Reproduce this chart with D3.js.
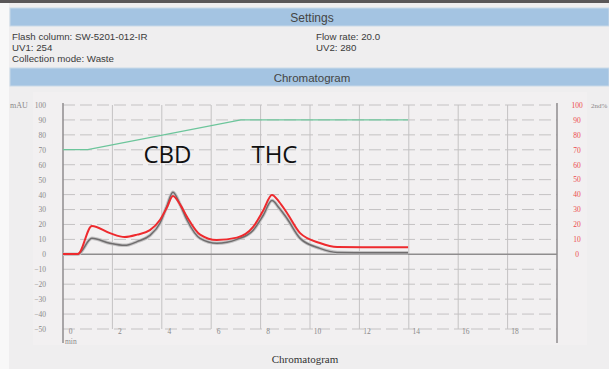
<!DOCTYPE html>
<html>
<head>
<meta charset="utf-8">
<script src="https://d3js.org/d3.v7.min.js"></script>
<style>
  body { margin: 0; background: #efeeef; }
  svg { display: block; }
</style>
</head>
<body>
<div id="chart"></div>
<script>
// Run settings
var settingsLeft = ["Flash column: SW-5201-012-IR", "UV1: 254", "Collection mode: Waste"];
var settingsRight = ["Flow rate: 20.0", "UV2: 280"];

// Axis ticks
var xTicks = [0, 2, 4, 6, 8, 10, 12, 14, 16, 18];
var yTicks = [-50, -40, -30, -20, -10, 0, 10, 20, 30, 40, 50, 60, 70, 80, 90, 100];
var y2Ticks = [0, 10, 20, 30, 40, 50, 60, 70, 80, 90, 100];

// Traces (time in min)
var uv1Time = [0, 0.6, 1.17, 1.9, 2.5, 3.0, 3.52, 3.93, 4.2, 4.45, 4.75, 5.02, 5.55, 6.23, 7.04, 7.69, 8.1, 8.46, 8.75, 9.07, 9.6, 10.4, 11.1, 12.5, 13.97];
var uv1 = [0, 0, 10.7, 7.4, 6.0, 8.5, 12.7, 21, 32, 41.6, 33, 23, 10.7, 7.4, 10, 16, 26, 36, 31, 24, 10.7, 4, 1.3, 1.0, 1.0];
var uv2Time = [0, 0.6, 1.17, 1.9, 2.5, 3.0, 3.52, 3.93, 4.2, 4.45, 4.75, 5.02, 5.55, 6.23, 7.04, 7.69, 8.1, 8.46, 8.75, 9.07, 9.6, 10.4, 11.1, 12.5, 13.97];
var uv2 = [0, 0, 18.8, 14, 11.4, 13, 16, 23, 31, 39, 33, 25, 13, 9.4, 11, 18, 29, 39.6, 35, 27.5, 14, 7.4, 4.7, 4.5, 4.5];
var gradTime = [0, 1.0, 7.2, 13.97];
var gradient = [70, 70, 90, 90];

var peaks = [{ label: "CBD", t: 4.23, v: 61 }, { label: "THC", t: 8.56, v: 61 }];

var width = 609, height = 369;
var svg = d3.select("#chart").append("svg").attr("width", width).attr("height", height);

// top border
svg.append("rect").attr("x", 0).attr("y", 0).attr("width", width).attr("height", 3).attr("fill", "#5a5758");
svg.append("rect").attr("x", 0).attr("y", 3).attr("width", 9).attr("height", height).attr("fill", "#f8f8f8");

// header bars
function bar(y, label, size) {
  svg.append("rect").attr("x", 10).attr("y", y).attr("width", width - 10).attr("height", 18)
    .attr("fill", "#a4c4e2").attr("stroke", "#c9d9e8").attr("stroke-width", 1);
  svg.append("text").attr("x", 312).attr("y", y + 13.5).attr("text-anchor", "middle")
    .attr("font-family", "Liberation Sans, Arial, sans-serif").attr("font-size", size)
    .attr("fill", "#444").text(label);
}
bar(8, "Settings", 12);
bar(68, "Chromatogram", 11.5);

var infoFont = "Liberation Sans, Arial, sans-serif";
settingsLeft.forEach(function(s, i) {
  svg.append("text").attr("x", 12).attr("y", 39.5 + i * 11).attr("font-family", infoFont)
    .attr("font-size", 9.7).attr("fill", "#3a3a3a").text(s);
});
settingsRight.forEach(function(s, i) {
  svg.append("text").attr("x", 316).attr("y", 39.5 + i * 11).attr("font-family", infoFont)
    .attr("font-size", 9.7).attr("fill", "#3a3a3a").text(s);
});

// chart panel
svg.append("rect").attr("x", 33).attr("y", 92).attr("width", 554).attr("height", 253).attr("fill", "#f2f0f1");

var x = d3.scaleLinear().domain([0, 20]).range([63, 557]);
var y = d3.scaleLinear().domain([-50, 100]).range([329, 105]);
var y2 = d3.scaleLinear().domain([0, 100]).range([254, 105]);

var grid = svg.append("g");
// horizontal dashed grid
grid.selectAll("line.h").data(yTicks.filter(function(d) { return d !== 0; })).enter().append("line")
  .attr("x1", x(0)).attr("x2", x(20)).attr("y1", function(d) { return y(d); }).attr("y2", function(d) { return y(d); })
  .attr("stroke", "#c4c2c3").attr("stroke-width", 1).attr("stroke-dasharray", "12,5");
// vertical grid
grid.selectAll("line.v").data(xTicks.filter(function(d) { return d > 0; })).enter().append("line")
  .attr("x1", function(d) { return x(d); }).attr("x2", function(d) { return x(d); })
  .attr("y1", y(100)).attr("y2", y(-50))
  .attr("stroke", "#c4c2c3").attr("stroke-width", 1);
// zero line
grid.append("line").attr("x1", x(0)).attr("x2", x(20)).attr("y1", y(0)).attr("y2", y(0))
  .attr("stroke", "#8f8d8e").attr("stroke-width", 1.5);
// axis lines
[0, 20].forEach(function(t) {
  grid.append("line").attr("x1", x(t)).attr("x2", x(t)).attr("y1", y(100) - 2).attr("y2", 343)
    .attr("stroke", "#8f8d8e").attr("stroke-width", 1.5);
});

var serif = "Liberation Serif, Times New Roman, serif";
// left axis
var yAxis = d3.axisLeft(y).tickValues(yTicks).tickSize(0).tickPadding(0);
var gy = svg.append("g").attr("transform", "translate(46,0)").call(yAxis);
gy.select(".domain").remove();
gy.selectAll("text").attr("font-family", serif).attr("font-size", 7.5).attr("fill", "#8a8889");
svg.append("text").attr("x", 10).attr("y", 108).attr("font-family", serif).attr("font-size", 8)
  .attr("fill", "#8a8889").text("mAU");

// right axis
var y2Axis = d3.axisRight(y2).tickValues(y2Ticks).tickSize(0).tickPadding(0);
var gy2 = svg.append("g").attr("transform", "translate(571,0)").call(y2Axis);
gy2.select(".domain").remove();
gy2.selectAll("text").attr("font-family", serif).attr("font-size", 7.5).attr("fill", "#ec4a4e")
  .attr("text-anchor", "middle").attr("x", 6);
svg.append("text").attr("x", 591).attr("y", 108).attr("font-family", serif).attr("font-size", 7)
  .attr("fill", "#8a8889").text("2nd%");

// bottom axis
var xAxis = d3.axisBottom(x).tickValues(xTicks).tickSize(0).tickPadding(0);
var gx = svg.append("g").attr("transform", "translate(7,329)").call(xAxis);
gx.select(".domain").remove();
gx.selectAll("text").attr("font-family", serif).attr("font-size", 7.5).attr("fill", "#8a8889");
svg.append("text").attr("x", 65).attr("y", 344).attr("font-family", serif).attr("font-size", 7.5)
  .attr("fill", "#8a8889").text("min");
svg.append("text").attr("x", 305).attr("y", 363).attr("text-anchor", "middle").attr("font-family", serif)
  .attr("font-size", 11).attr("fill", "#333").text("Chromatogram");

// traces
var curve = d3.curveMonotoneX;
var line1 = d3.line().x(function(d, i) { return x(uv1Time[i]); }).y(function(d) { return y(d); }).curve(curve);
var line2 = d3.line().x(function(d, i) { return x(uv2Time[i]); }).y(function(d) { return y2(d); }).curve(curve);
var lineG = d3.line().x(function(d, i) { return x(gradTime[i]); }).y(function(d) { return y2(d); });

svg.append("path").attr("d", lineG(gradient)).attr("fill", "none").attr("stroke", "#6cc59b").attr("stroke-width", 1.2);
svg.append("path").attr("d", line1(uv1)).attr("fill", "none").attr("stroke", "#c5c3c4").attr("stroke-width", 3.5);
svg.append("path").attr("d", line1(uv1)).attr("fill", "none").attr("stroke", "#6f6d6e").attr("stroke-width", 1.5);
svg.append("path").attr("d", line2(uv2)).attr("fill", "none").attr("stroke", "#ee2a2e").attr("stroke-width", 2);

// peak labels
svg.selectAll("text.peak").data(peaks).enter().append("text")
  .attr("x", function(d) { return x(d.t); }).attr("y", function(d) { return y(d.v); })
  .attr("text-anchor", "middle").attr("font-family", "Open Sans, sans-serif").attr("font-size", 24)
  .attr("fill", "#111").text(function(d) { return d.label; });
</script>
</body>
</html>
